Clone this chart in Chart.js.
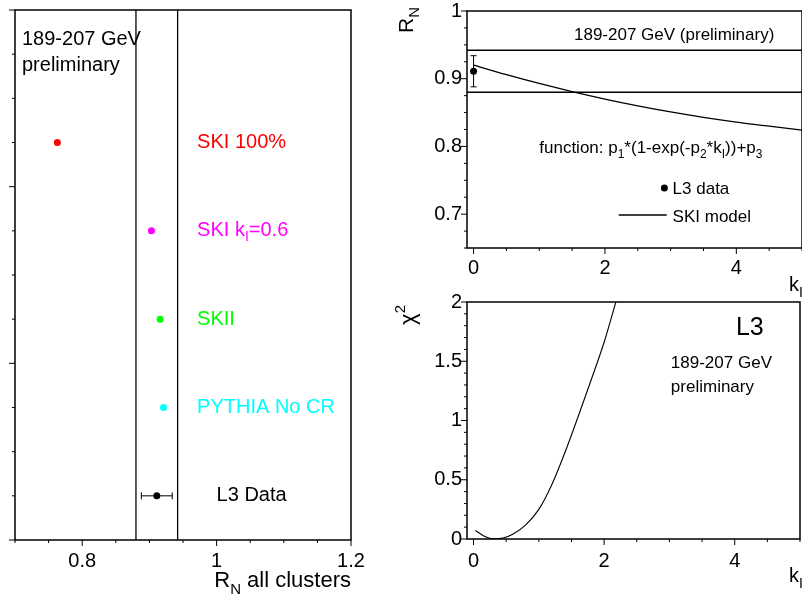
<!DOCTYPE html>
<html>
<head>
<meta charset="utf-8">
<title>R_N all clusters</title>
<script src="https://cdn.jsdelivr.net/npm/chart.js@4.4.1/dist/chart.umd.min.js"></script>
<style>
  html, body { margin: 0; padding: 0; background: #fff; overflow: hidden; width: 802px; height: 601px; }
  canvas { position: absolute; }
  #modelChart { left: 0; top: 0; }
  #rnChart { left: 380px; top: -15px; }
  #chiChart { left: 380px; top: 275px; }
</style>
</head>
<body>
<canvas id="modelChart" width="380" height="601"></canvas>
<canvas id="rnChart" width="430" height="315"></canvas>
<canvas id="chiChart" width="430" height="326"></canvas>
<script>
// model predictions for R_N (left panel), one row each
const models = ['SKI 100%', 'SKI k_{I}=0.6', 'SKII', 'PYTHIA No CR', 'L3 Data'];
const modelRN = [0.763, 0.903, 0.916, 0.921, 0.911];
const modelRow = [4.5, 3.5, 2.5, 1.5, 0.5];
const modelColors = ['#ff0000', '#ff00ff', '#00ff00', '#00ffff', '#000000'];

// L3 measurement and its allowed band
const dataRN = 0.911;
const dataErr = 0.023;
const bandLow = 0.880;
const bandHigh = 0.942;

// SKI model R_N versus k_I
const kI = [0, 0.5, 1, 1.5, 2, 2.5, 3, 3.5, 4, 4.5, 5];
const skiRN = [0.920, 0.906, 0.893, 0.881, 0.870, 0.860, 0.851, 0.843, 0.836, 0.830, 0.824];

// chi^2 scan versus k_I
const chiK = [0.03, 0.15, 0.3, 0.45, 0.6, 0.8, 1.0, 1.2, 1.4, 1.6, 1.8, 2.0, 2.18];
const chiVal = [0.072, 0.028, 0.002, 0.008, 0.04, 0.12, 0.25, 0.46, 0.73, 1.03, 1.34, 1.66, 2.0];

const FONT = '"Liberation Sans", Arial, Helvetica, sans-serif';
Chart.defaults.font.family = FONT;
Chart.defaults.color = '#000';
Chart.defaults.animation = false;

const isMult = (v, s) => Math.abs(v / s - Math.round(v / s)) < 1e-6;
const fmt = v => String(parseFloat(v.toFixed(2)));

// regular ticks from lo to hi, every step
const stepTicks = (lo, hi, step) => s => {
  const ticks = [];
  for (let i = Math.ceil(lo / step - 1e-9); i * step <= hi + 1e-9; i++) {
    ticks.push({ value: +(i * step).toFixed(6) });
  }
  s.ticks = ticks;
};

// text with _{sub} and ^{sup} pieces
function richParts(str) {
  const parts = [];
  const re = /([_^])\{([^}]*)\}/g;
  let last = 0, m;
  while ((m = re.exec(str))) {
    if (m.index > last) parts.push({ t: str.slice(last, m.index), k: '' });
    parts.push({ t: m[2], k: m[1] });
    last = re.lastIndex;
  }
  if (last < str.length) parts.push({ t: str.slice(last), k: '' });
  return parts;
}

function drawRich(ctx, str, x, y, size, color, align) {
  const parts = richParts(str);
  const fontOf = k => `${k ? Math.round(size * 0.7) : size}px ${FONT}`;
  let w = 0;
  for (const p of parts) {
    ctx.font = fontOf(p.k);
    p.w = ctx.measureText(p.t).width;
    w += p.w;
  }
  let cx = align === 'right' ? x - w : align === 'center' ? x - w / 2 : x;
  ctx.fillStyle = color;
  ctx.textAlign = 'left';
  for (const p of parts) {
    ctx.font = fontOf(p.k);
    const dy = p.k === '_' ? size * 0.3 : p.k === '^' ? -size * 0.45 : 0;
    ctx.fillText(p.t, cx, y + dy);
    cx += p.w;
  }
}

// box around the plot plus outward major/minor tick marks
const frame = {
  id: 'frame',
  afterDraw(chart, args, o) {
    const { ctx, chartArea: a } = chart;
    ctx.save();
    ctx.strokeStyle = '#000';
    ctx.lineWidth = 1.5;
    ctx.strokeRect(a.left, a.top, a.right - a.left, a.bottom - a.top);
    ctx.lineWidth = 1;
    for (const id of ['x', 'y']) {
      const s = chart.scales[id];
      const [minor, major] = o[id];
      for (const t of s.ticks) {
        if (!isMult(t.value, minor)) continue;
        const len = isMult(t.value, major) ? 6 : 3;
        const p = s.getPixelForValue(t.value);
        ctx.beginPath();
        if (id === 'x') { ctx.moveTo(p, a.bottom); ctx.lineTo(p, a.bottom + len); }
        else { ctx.moveTo(a.left, p); ctx.lineTo(a.left - len, p); }
        ctx.stroke();
      }
    }
    ctx.restore();
  }
};

// labels, legend entries and axis titles
const notes = {
  id: 'notes',
  afterDraw(chart, args, o) {
    const { ctx, scales: { x, y } } = chart;
    for (const n of o.items || []) {
      const px = n.px !== undefined ? n.px : x.getPixelForValue(n.x);
      const py = n.py !== undefined ? n.py : y.getPixelForValue(n.y);
      ctx.save();
      ctx.translate(px, py);
      if (n.shape === 'dot') {
        ctx.fillStyle = '#000';
        ctx.beginPath();
        ctx.arc(0, 0, 3.5, 0, Math.PI * 2);
        ctx.fill();
      } else if (n.shape === 'line') {
        ctx.strokeStyle = '#000';
        ctx.lineWidth = 1.3;
        ctx.beginPath();
        ctx.moveTo(0, 0);
        ctx.lineTo(x.getPixelForValue(n.x2) - px, 0);
        ctx.stroke();
      } else {
        if (n.rotate) ctx.rotate(n.rotate);
        ctx.textBaseline = n.baseline || 'alphabetic';
        drawRich(ctx, n.text, 0, 0, n.size, n.color || '#000', n.align || 'left');
      }
      ctx.restore();
    }
  }
};

const vline = (xv, y0, y1) => ({
  data: [{ x: xv, y: y0 }, { x: xv, y: y1 }],
  showLine: true, pointRadius: 0, borderColor: '#000', borderWidth: 1.3
});
const hline = (yv, x0, x1) => ({
  data: [{ x: x0, y: yv }, { x: x1, y: yv }],
  showLine: true, pointRadius: 0, borderColor: '#000', borderWidth: 1.3
});

const noGrid = { display: false, drawTicks: false };

// left panel: model comparison
new Chart(document.getElementById('modelChart'), {
  type: 'scatter',
  data: {
    datasets: [
      {
        data: modelRN.map((v, i) => ({ x: v, y: modelRow[i] })),
        pointRadius: 3.5, pointBorderWidth: 0,
        pointBackgroundColor: modelColors
      },
      {
        data: [{ x: dataRN - dataErr, y: modelRow[4] }, { x: dataRN + dataErr, y: modelRow[4] }],
        showLine: true, borderColor: '#000', borderWidth: 1,
        pointStyle: 'line', rotation: 90, pointRadius: 3.5,
        pointBorderColor: '#000', pointBorderWidth: 1
      },
      vline(bandLow, 0, 6),
      vline(bandHigh, 0, 6)
    ]
  },
  options: {
    responsive: false,
    layout: { padding: { top: 10, right: 29, left: 0, bottom: 0 } },
    plugins: {
      legend: { display: false },
      tooltip: { enabled: false },
      frame: { x: [0.05, 0.2], y: [0.5, 2] },
      notes: {
        items: [
          { text: '189-207 GeV', x: 0.7104, y: 5.604, size: 20 },
          { text: 'preliminary', x: 0.7104, y: 5.31, size: 20 },
          ...models.map((m, i) => ({
            text: m, x: i === 4 ? 1.0 : 0.971, y: modelRow[i], size: 20,
            color: modelColors[i], baseline: 'middle'
          })),
          { text: 'R_{N} all clusters', px: 351, py: 587, size: 22, align: 'right' }
        ]
      }
    },
    scales: {
      x: {
        type: 'linear', min: 0.7, max: 1.2,
        grid: noGrid, border: { display: false },
        afterBuildTicks: stepTicks(0.7, 1.2, 0.05),
        ticks: {
          autoSkip: false, maxRotation: 0, padding: 9,
          font: { size: 20 },
          callback: v => isMult(v, 0.2) ? fmt(v) : ''
        },
        afterFit: s => { s.height = 61; }
      },
      y: {
        min: 0, max: 6,
        grid: noGrid, border: { display: false },
        afterBuildTicks: stepTicks(0, 6, 0.5),
        ticks: { display: false },
        afterFit: s => { s.width = 15; }
      }
    }
  },
  plugins: [frame, notes]
});

// top right: R_N versus k_I
new Chart(document.getElementById('rnChart'), {
  type: 'scatter',
  data: {
    datasets: [
      {
        data: [{ x: 0, y: dataRN }],
        pointRadius: 3.5, pointBorderWidth: 0, pointBackgroundColor: '#000'
      },
      {
        data: [{ x: 0, y: dataRN - dataErr }, { x: 0, y: dataRN + dataErr }],
        showLine: true, borderColor: '#000', borderWidth: 1,
        pointStyle: 'line', pointRadius: 3, pointBorderColor: '#000', pointBorderWidth: 1
      },
      {
        data: kI.map((k, i) => ({ x: k, y: skiRN[i] })),
        showLine: true, pointRadius: 0, borderColor: '#000', borderWidth: 1.3,
        cubicInterpolationMode: 'monotone'
      },
      hline(bandHigh, -0.1, 5),
      hline(bandLow, -0.1, 5)
    ]
  },
  options: {
    responsive: false,
    layout: { padding: { top: 26, right: 7, left: 0, bottom: 0 } },
    plugins: {
      legend: { display: false },
      tooltip: { enabled: false },
      frame: { x: [0.5, 2], y: [0.025, 0.1] },
      notes: {
        items: [
          { text: '189-207 GeV (preliminary)', x: 1.529, y: 0.957, size: 17 },
          { text: 'function: p_{1}*(1-exp(-p_{2}*k_{I}))+p_{3}', x: 1.0, y: 0.790, size: 17 },
          { shape: 'dot', x: 2.905, y: 0.7386 },
          { text: 'L3 data', x: 3.03, y: 0.7293, size: 17 },
          { shape: 'line', x: 2.21, x2: 2.94, y: 0.6987 },
          { text: 'SKI model', x: 3.03, y: 0.6888, size: 17 },
          { text: 'k_{I}', px: 423, py: 306, size: 20, align: 'right' },
          { text: 'R_{N}', px: 33, py: 22, size: 21, align: 'right', rotate: -Math.PI / 2 }
        ]
      }
    },
    scales: {
      x: {
        type: 'linear', min: -0.1, max: 5,
        grid: noGrid, border: { display: false },
        afterBuildTicks: stepTicks(-0.1, 5, 0.5),
        ticks: {
          autoSkip: false, maxRotation: 0, padding: 8,
          font: { size: 20 },
          callback: v => isMult(v, 2) ? fmt(v) : ''
        },
        afterFit: s => { s.height = 52; }
      },
      y: {
        min: 0.65, max: 1.0,
        grid: noGrid, border: { display: false },
        afterBuildTicks: stepTicks(0.65, 1.0, 0.025),
        ticks: {
          autoSkip: false, padding: 5,
          font: { size: 20 },
          callback: v => isMult(v, 0.1) ? fmt(v) : ''
        },
        afterFit: s => { s.width = 87; }
      }
    }
  },
  plugins: [frame, notes]
});

// bottom right: chi^2 versus k_I
new Chart(document.getElementById('chiChart'), {
  type: 'scatter',
  data: {
    datasets: [
      {
        data: chiK.map((k, i) => ({ x: k, y: chiVal[i] })),
        showLine: true, pointRadius: 0, borderColor: '#000', borderWidth: 1.1,
        cubicInterpolationMode: 'monotone'
      }
    ]
  },
  options: {
    responsive: false,
    layout: { padding: { top: 27, right: 7, left: 0, bottom: 0 } },
    plugins: {
      legend: { display: false },
      tooltip: { enabled: false },
      frame: { x: [0.5, 2], y: [0.1, 0.5] },
      notes: {
        items: [
          { text: 'L3', x: 4.018, y: 1.722, size: 25 },
          { text: '189-207 GeV', x: 3.022, y: 1.44, size: 17 },
          { text: 'preliminary', x: 3.022, y: 1.241, size: 17 },
          { text: 'k_{I}', px: 423, py: 307, size: 20, align: 'right' },
          { text: '\u03c7^{2}', px: 35, py: 30, size: 22, align: 'right', rotate: -Math.PI / 2 }
        ]
      }
    },
    scales: {
      x: {
        type: 'linear', min: -0.1, max: 5,
        grid: noGrid, border: { display: false },
        afterBuildTicks: stepTicks(-0.1, 5, 0.5),
        ticks: {
          autoSkip: false, maxRotation: 0, padding: 10,
          font: { size: 20 },
          callback: v => isMult(v, 2) ? fmt(v) : ''
        },
        afterFit: s => { s.height = 62; }
      },
      y: {
        min: 0, max: 2,
        grid: noGrid, border: { display: false },
        afterBuildTicks: stepTicks(0, 2, 0.1),
        ticks: {
          autoSkip: false, padding: 5,
          font: { size: 20 },
          callback: v => isMult(v, 0.5) ? fmt(v) : ''
        },
        afterFit: s => { s.width = 87; }
      }
    }
  },
  plugins: [frame, notes]
});
</script>
</body>
</html>
